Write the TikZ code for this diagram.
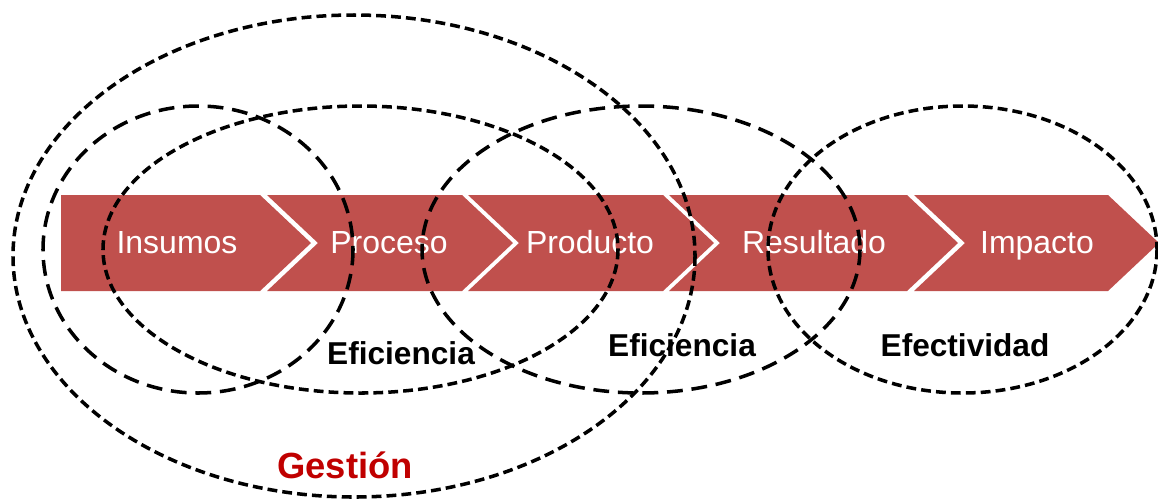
\documentclass[tikz,border=0pt]{standalone}
\usepackage{fontspec}
\setmainfont{Liberation Sans}
\definecolor{bandred}{HTML}{C0504D}
\definecolor{gestred}{HTML}{C00000}

\begin{document}
\begin{tikzpicture}[x=0.02cm,y=-0.02cm]
    \tikzstyle{chevtext}=[text=white,font=\fontsize{18.2}{20}\selectfont,anchor=base,inner sep=0pt]
    \tikzstyle{lbl}=[font=\bfseries\fontsize{18}{20}\selectfont,anchor=base,inner sep=0pt]
    \tikzstyle{fine}=[line width=2pt,dash pattern=on 5.6pt off 2.9pt]
    \tikzstyle{coarse}=[line width=2pt,dash pattern=on 9pt off 5pt]
    \useasboundingbox (0,0) rectangle (1158,498);

    \foreach \n/\l/\r/\d/\cx/\txt in {1/61/260/0/177/Insumos, 2/267/462/51/389/Proceso,
            3/468/663/51/590/Producto, 4/669/907/51/814/Resultado, 5/914/1108/51/1037/Impacto}
        {
        \fill[bandred] (\l,195) -- (\r,195) -- (\r+51,243) -- (\r,291) -- (\l,291) -- (\l+\d,243) -- cycle;
        \node[chevtext] (C-\n) at (\cx,253) {\txt};
        }

    \draw[fine] (354,256) ellipse [x radius=341, y radius=241];
    \draw[coarse] (198,249.5) ellipse [x radius=155, y radius=143.5];
    \draw[fine] (360.5,249.5) ellipse [x radius=257.5, y radius=143.5];
    \draw[coarse] (641,249.5) ellipse [x radius=219, y radius=143.5];
    \draw[fine] (962.5,249.5) ellipse [x radius=194.5, y radius=143.5];

    \node[lbl] (ef-1) at (401,364) {Eficiencia};
    \node[lbl] (ef-2) at (682,356) {Eficiencia};
    \node[lbl] (efect) at (965,356) {Efectividad};
    \node[lbl,text=gestred,font=\bfseries\fontsize{20.7}{24}\selectfont] (gest) at (345,478) {Gestión};
\end{tikzpicture}
\end{document}
